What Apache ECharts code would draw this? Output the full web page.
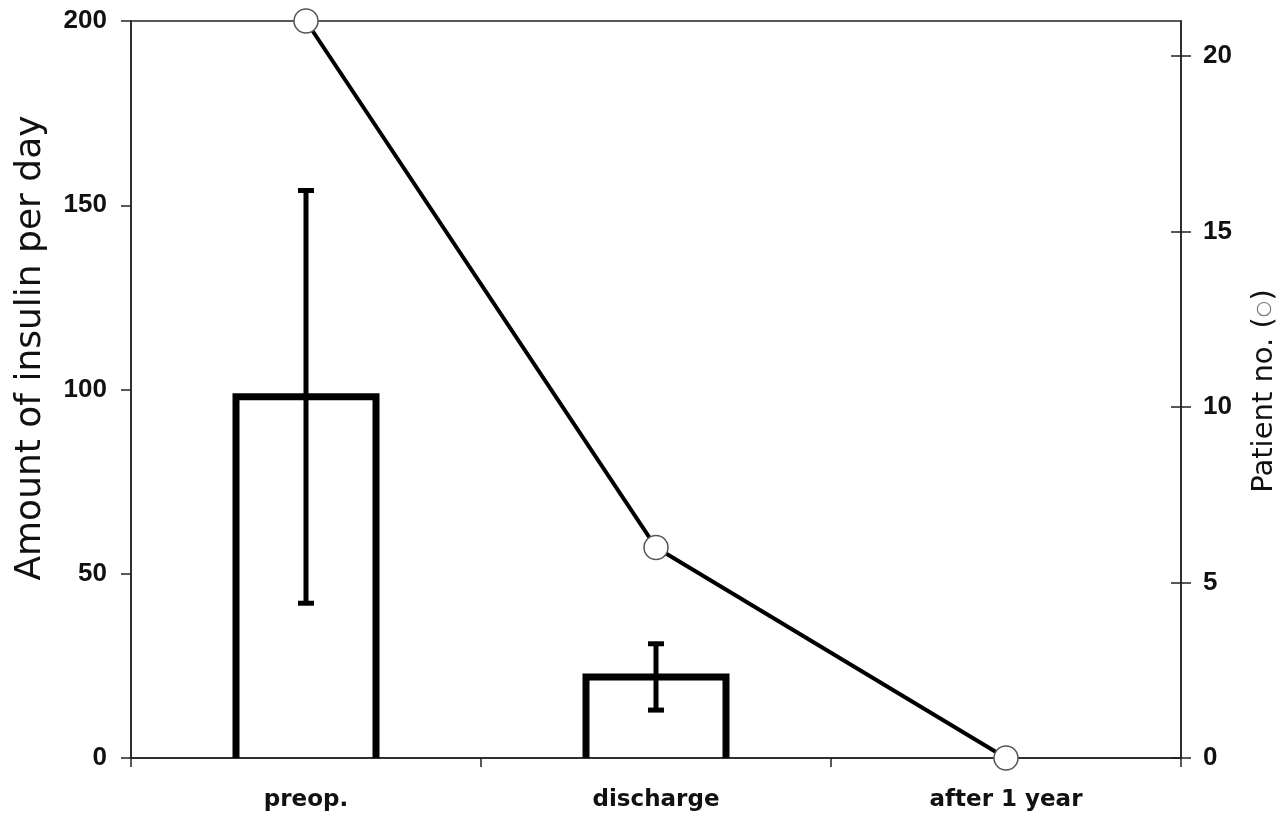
<!DOCTYPE html>
<html>
<head>
<meta charset="utf-8">
<script src="https://cdn.jsdelivr.net/npm/echarts@6/dist/echarts.min.js"></script>
<style>
  html, body { margin: 0; padding: 0; background: #fff; }
  #chart { width: 1283px; height: 816px; }
</style>
</head>
<body>
<div id="chart"></div>
<script>
// Daily insulin requirement (mean ± SD) and number of insulin-dependent patients
const categories = ['preop.', 'discharge', 'after 1 year'];
const insulinMean = [98, 22, null];
const insulinSD = [56, 9, null];
const patientCount = [21, 6, 0];
const insulinTicks = [0, 50, 100, 150, 200];
const patientTicks = [0, 5, 10, 15, 20];

const INK = '#111';
const AXIS = '#222';
const tickFont = {
  fontFamily: '"Liberation Sans", Arial, sans-serif',
  fontWeight: 'bold',
  fontSize: 26,
  color: INK
};

// [categoryIndex, mean]
const barData = insulinMean
  .map((m, i) => (m == null ? null : [i, m]))
  .filter(Boolean);

// [categoryIndex, mean - sd, mean + sd]
const errorData = insulinMean
  .map((m, i) => (m == null ? null : [i, m - insulinSD[i], m + insulinSD[i]]))
  .filter(Boolean);

const chart = echarts.init(document.getElementById('chart'));

chart.setOption({
  animation: false,
  backgroundColor: '#fff',
  grid: {
    left: 131, right: 102, top: 21, bottom: 58,
    show: true, borderColor: AXIS, borderWidth: 1.5, backgroundColor: 'transparent'
  },
  xAxis: {
    type: 'category',
    data: categories,
    boundaryGap: true,
    axisLine: { lineStyle: { color: AXIS, width: 1.5 } },
    axisTick: { show: true, length: 9, lineStyle: { color: AXIS, width: 1.5 } },
    axisLabel: {
      margin: 31,
      fontFamily: '"DejaVu Sans", Verdana, sans-serif',
      fontWeight: 'bold',
      fontSize: 23,
      color: INK
    },
    splitLine: { show: false }
  },
  yAxis: [
    {
      type: 'value', min: 0, max: 200, interval: 50, position: 'left',
      axisLine: { show: true, lineStyle: { color: AXIS, width: 1.5 } },
      axisTick: { show: true, length: 10, lineStyle: { color: AXIS, width: 1.5 }, customValues: insulinTicks },
      axisLabel: Object.assign({ margin: 24, padding: [4, 0, 0, 0], customValues: insulinTicks }, tickFont),
      splitLine: { show: false }
    },
    {
      type: 'value', min: 0, max: 21, interval: 5, position: 'right',
      axisLine: { show: true, lineStyle: { color: AXIS, width: 1.5 } },
      axisTick: { show: true, length: 10, lineStyle: { color: AXIS, width: 1.5 }, customValues: patientTicks },
      axisLabel: Object.assign({ margin: 22, customValues: patientTicks }, tickFont),
      splitLine: { show: false }
    },
    {
      // inner half of the crossing ticks on the right axis
      type: 'value', min: 0, max: 21, interval: 5, position: 'right',
      axisLine: { show: false },
      axisTick: { show: true, inside: true, length: 10, lineStyle: { color: AXIS, width: 1.5 }, customValues: patientTicks },
      axisLabel: { show: false },
      splitLine: { show: false }
    }
  ],
  series: [
    {
      // open-bottomed bars: left, top and right edges only
      type: 'custom',
      yAxisIndex: 0,
      data: barData,
      encode: { x: 0, y: 1 },
      z: 1,
      renderItem: function (params, api) {
        const base = api.coord([api.value(0), 0]);
        const top = api.coord([api.value(0), api.value(1)]);
        const half = api.size([1, 0])[0] * 0.4 / 2;
        return {
          type: 'polyline',
          shape: {
            points: [
              [base[0] - half, base[1]],
              [base[0] - half, top[1]],
              [base[0] + half, top[1]],
              [base[0] + half, base[1]]
            ]
          },
          style: { stroke: '#000', lineWidth: 7, fill: null, lineJoin: 'miter' }
        };
      }
    },
    {
      type: 'custom',
      yAxisIndex: 0,
      data: errorData,
      encode: { x: 0, y: [1, 2] },
      z: 2,
      renderItem: function (params, api) {
        const lo = api.coord([api.value(0), api.value(1)]);
        const hi = api.coord([api.value(0), api.value(2)]);
        const half = 8;
        const st = { stroke: '#000', lineWidth: 5 };
        return {
          type: 'group',
          children: [
            { type: 'line', shape: { x1: lo[0], y1: lo[1], x2: hi[0], y2: hi[1] }, style: st },
            { type: 'line', shape: { x1: hi[0] - half, y1: hi[1], x2: hi[0] + half, y2: hi[1] }, style: st },
            { type: 'line', shape: { x1: lo[0] - half, y1: lo[1], x2: lo[0] + half, y2: lo[1] }, style: st }
          ]
        };
      }
    },
    {
      type: 'line',
      yAxisIndex: 1,
      data: patientCount,
      clip: false,
      symbol: 'circle',
      symbolSize: 24,
      lineStyle: { color: '#000', width: 4 },
      itemStyle: { color: '#fff', borderColor: '#555', borderWidth: 1.5 },
      z: 3
    }
  ],
  graphic: [
    {
      type: 'text',
      x: 31, y: 348,
      rotation: Math.PI / 2,
      style: {
        text: 'Amount of insulin per day',
        fontFamily: '"DejaVu Sans", Verdana, sans-serif',
        fontSize: 36,
        fill: INK,
        align: 'center',
        verticalAlign: 'middle'
      }
    },
    {
      type: 'text',
      x: 1264, y: 391,
      rotation: Math.PI / 2,
      style: {
        text: '{a|Patient no. (}{c|○}{a|)}',
        align: 'center',
        verticalAlign: 'middle',
        rich: {
          a: { fontFamily: '"DejaVu Sans", Verdana, sans-serif', fontSize: 29, fill: INK, verticalAlign: 'middle' },
          c: { fontFamily: '"DejaVu Sans", Verdana, sans-serif', fontSize: 19, fill: '#777', verticalAlign: 'middle' }
        }
      }
    }
  ]
});
</script>
</body>
</html>
